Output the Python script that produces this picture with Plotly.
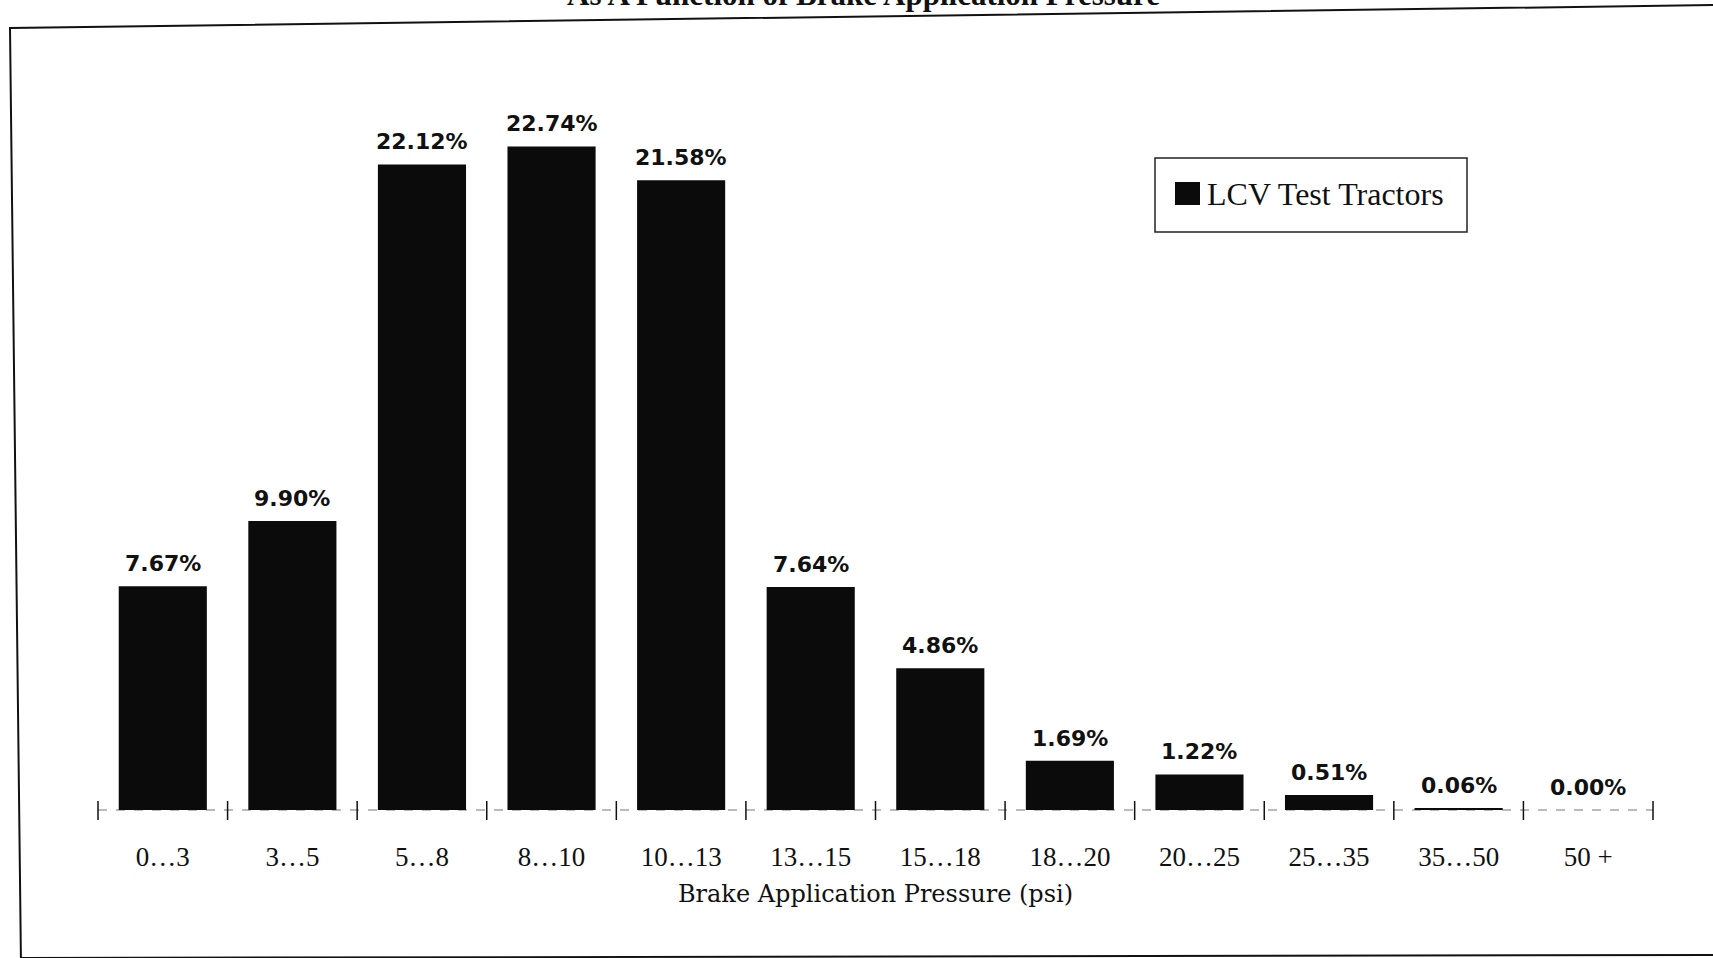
import plotly.graph_objects as go

# Pressure bins and share of brake applications in each
categories = ["0…3", "3…5", "5…8", "8…10", "10…13", "13…15",
              "15…18", "18…20", "20…25", "25…35", "35…50", "50 +"]
shares = [7.67, 9.90, 22.12, 22.74, 21.58, 7.64,
          4.86, 1.69, 1.22, 0.51, 0.06, 0.00]
series_name = "LCV Test Tractors"
title_text = "As A Function of Brake Application Pressure"
x_title = "Brake Application Pressure (psi)"

W, H = 1713, 958
M_L, M_R, M_T, M_B = 98, 60, 60, 148

serif = "Liberation Serif, Times New Roman, serif"
wide_serif = "DejaVu Serif, serif"
sans = "DejaVu Sans, Arial, sans-serif"
ink = "#0b0b0b"

plot_w = W - M_L - M_R
plot_h = H - M_T - M_B


def px_x(p):
    """page pixel -> paper x"""
    return (p - M_L) / plot_w


def px_y(p):
    """page pixel -> paper y"""
    return (H - M_B - p) / plot_h


fig = go.Figure()

fig.add_trace(go.Bar(
    x=categories,
    y=shares,
    marker=dict(color=ink, line=dict(width=0)),
    showlegend=False,
))

# legend entry (its swatch is enlarged by a shape below)
fig.add_trace(go.Scatter(
    x=[None], y=[None], mode="markers",
    marker=dict(symbol="square", size=16, color=ink),
    name=series_name, showlegend=True,
))

# value labels above each bar
annotations = [
    dict(x=c, y=v, xref="x", yref="y", text=f"{v:.2f}%",
         showarrow=False, yanchor="bottom", xanchor="center", yshift=8,
         font=dict(family=sans, size=22, color="#111", weight="bold"))
    for c, v in zip(categories, shares)
]
annotations.append(
    dict(text=f"<b>{title_text}</b>", xref="paper", yref="paper",
         x=px_x(863), y=px_y(14), xanchor="center", yanchor="bottom",
         showarrow=False, font=dict(family=serif, size=31, color="#111"))
)

# dashed baseline with crossing ticks at every bin boundary
n = len(categories)
shapes = [
    dict(type="line", xref="paper", yref="paper",
         x0=0, x1=1, y0=0, y1=0,
         line=dict(color="#777", width=1, dash="dash"), layer="below"),
]
for i in range(n + 1):
    shapes.append(dict(
        type="line", xref="paper", yref="paper", ysizemode="pixel", yanchor=0,
        x0=i / n, x1=i / n, y0=-10, y1=9,
        line=dict(color="#111", width=1.5),
    ))

# legend frame and swatch
shapes.append(dict(
    type="rect", xref="paper", yref="paper",
    x0=px_x(1155), x1=px_x(1467), y0=px_y(232), y1=px_y(158),
    line=dict(color="#222", width=1.5), fillcolor="rgba(0,0,0,0)",
))
shapes.append(dict(
    type="rect", xref="paper", yref="paper",
    x0=px_x(1175), x1=px_x(1200), y0=px_y(205), y1=px_y(182),
    line=dict(width=0), fillcolor=ink,
))

# outer frame of the figure
frame_pts = [(1720, 5), (10, 28), (21, 965)]
path = "M " + " L ".join(f"{px_x(a):.5f},{px_y(b):.5f}" for a, b in frame_pts)
shapes.append(dict(type="path", xref="paper", yref="paper", path=path,
                   line=dict(color="#111", width=2)))
bottom_pts = [(21, 958), (1720, 955)]
path_b = "M " + " L ".join(f"{px_x(a):.5f},{px_y(b):.5f}" for a, b in bottom_pts)
shapes.append(dict(type="path", xref="paper", yref="paper", path=path_b,
                   line=dict(color="#111", width=2)))

fig.update_layout(
    width=W, height=H,
    margin=dict(l=M_L, r=M_R, t=M_T, b=M_B),
    paper_bgcolor="white", plot_bgcolor="white",
    bargap=0.32,
    xaxis=dict(
        type="category",
        categoryorder="array", categoryarray=categories,
        range=[-0.5, n - 0.5],
        showgrid=False, zeroline=False, showline=False,
        ticks="",
        ticklabelstandoff=28,
        tickfont=dict(family=serif, size=27, color="#111"),
        title=dict(text=x_title, standoff=14,
                   font=dict(family=wide_serif, size=24, color="#111")),
    ),
    yaxis=dict(
        range=[0, 25.7], visible=False, showgrid=False, zeroline=False,
    ),
    legend=dict(
        x=px_x(1167), y=px_y(165), xanchor="left", yanchor="top",
        borderwidth=0, bgcolor="rgba(0,0,0,0)",
        font=dict(family=serif, size=32, color="#111"),
        itemsizing="trace",
    ),
    shapes=shapes,
    annotations=annotations,
)

fig.write_html("out.html")
